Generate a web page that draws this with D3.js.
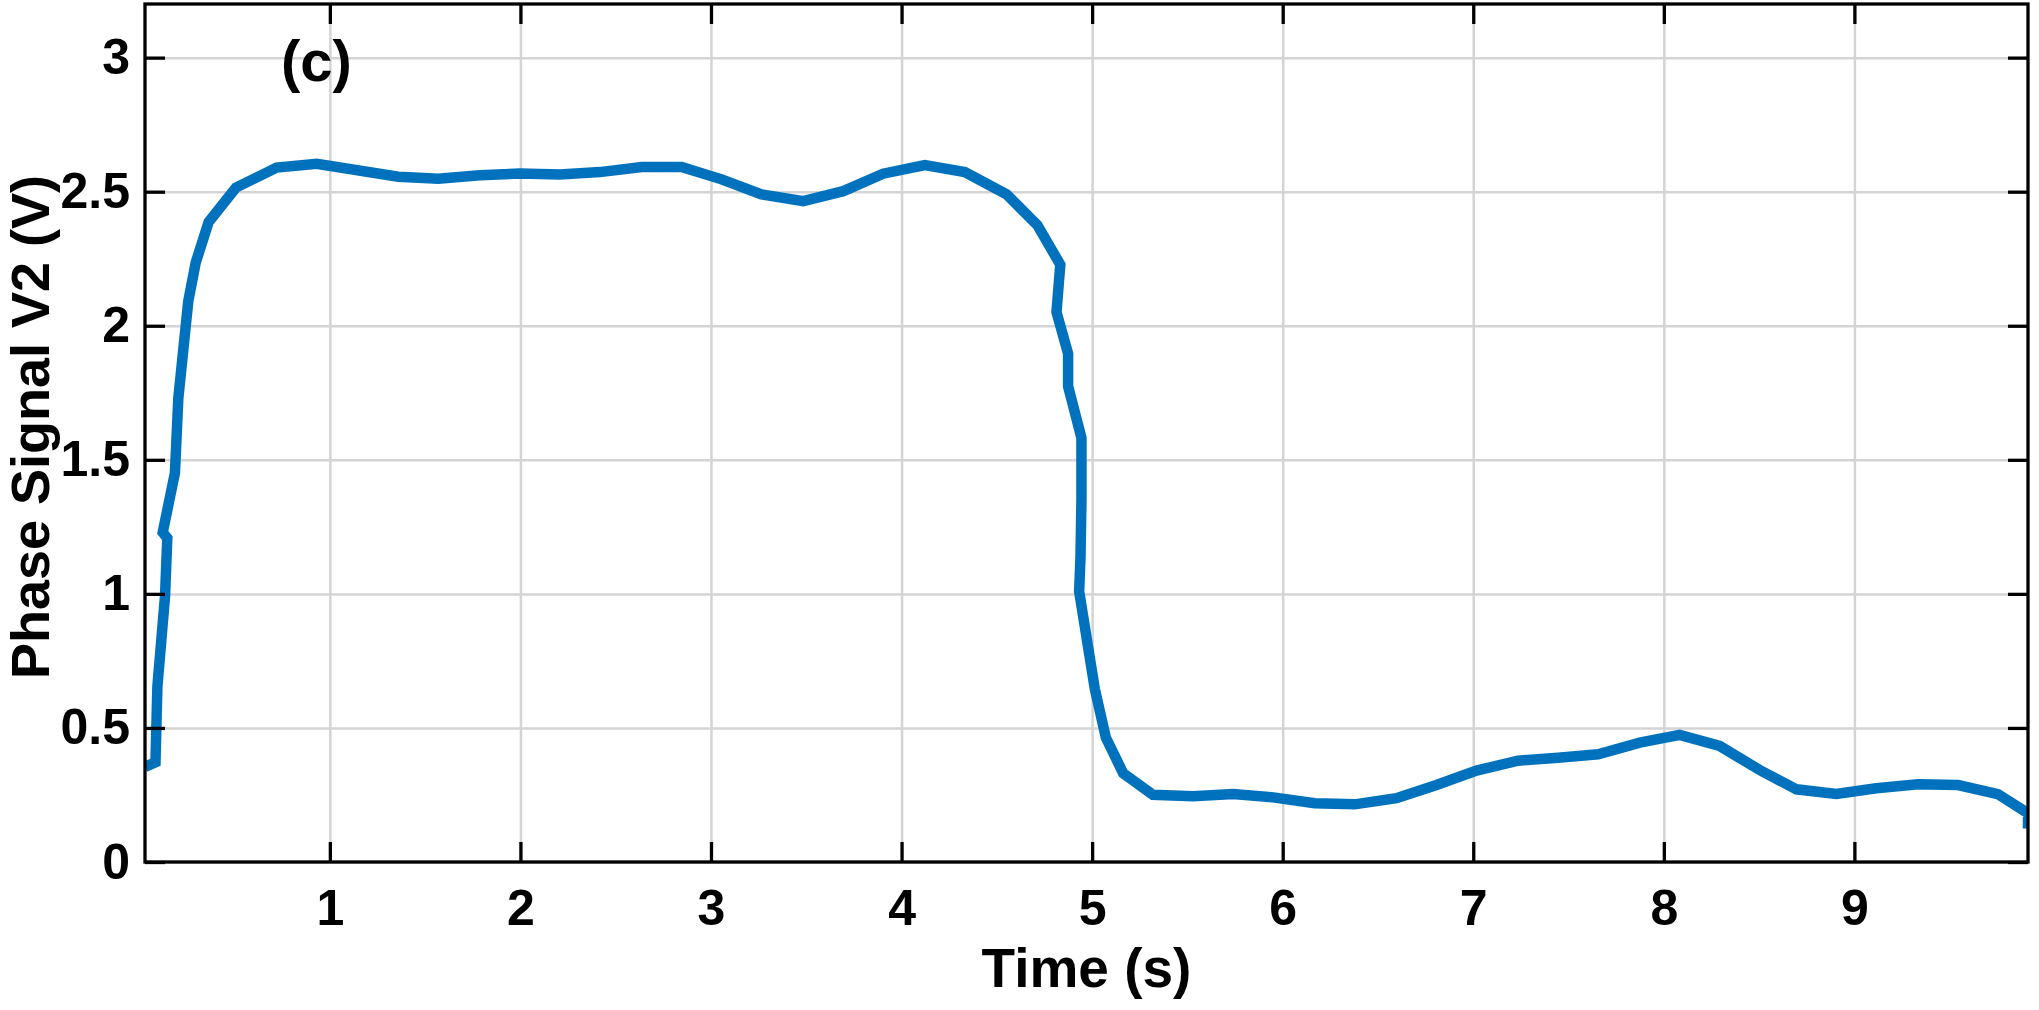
<!DOCTYPE html>
<html>
<head>
<meta charset="utf-8">
<script src="https://cdn.jsdelivr.net/npm/d3@7"></script>
<style>
  body { margin: 0; background: #fff; }
  text { font-family: "Liberation Sans", Arial, sans-serif; font-weight: bold; }
</style>
</head>
<body>
<div id="chart"></div>
<script>
// Phase signal V2 samples (time in s, voltage in V)
const timeS = [0.03, 0.085, 0.095, 0.135, 0.147, 0.123, 0.187, 0.205, 0.257, 0.296,
    0.364, 0.507, 0.721, 0.931, 1.359, 1.569, 1.788, 1.998, 2.207, 2.417,
    2.636, 2.846, 3.056, 3.265, 3.484, 3.694, 3.903, 4.122, 4.332, 4.551,
    4.712, 4.833, 4.813, 4.874, 4.874, 4.944, 4.944, 4.939, 4.932, 5.014,
    5.072, 5.163, 5.319, 5.530, 5.740, 5.950, 6.168, 6.378, 6.597, 6.807,
    7.017, 7.235, 7.445, 7.655, 7.874, 8.083, 8.293, 8.503, 8.696, 8.905,
    9.115, 9.334, 9.544, 9.753, 9.911, 9.911];
const voltV = [0.355, 0.372, 0.654, 0.990, 1.208, 1.229, 1.451, 1.731, 2.091, 2.235,
    2.387, 2.515, 2.590, 2.604, 2.556, 2.548, 2.561, 2.568, 2.564, 2.573,
    2.592, 2.592, 2.546, 2.490, 2.465, 2.502, 2.567, 2.599, 2.573, 2.490,
    2.376, 2.228, 2.051, 1.896, 1.774, 1.582, 1.351, 1.140, 1.009, 0.646,
    0.464, 0.331, 0.251, 0.245, 0.254, 0.241, 0.219, 0.215, 0.238, 0.287,
    0.341, 0.378, 0.389, 0.402, 0.445, 0.474, 0.433, 0.343, 0.271, 0.254,
    0.275, 0.290, 0.287, 0.253, 0.182, 0.125];

const xTicks = [1, 2, 3, 4, 5, 6, 7, 8, 9];
const yTicks = [0, 0.5, 1, 1.5, 2, 2.5, 3];
const yTickLabels = ["0", "0.5", "1", "1.5", "2", "2.5", "3"];

const data = timeS.map((t, i) => ({ t: t, v: voltV[i] }));

const W = 2039, H = 1010;
const margin = { left: 145, right: W - 2028, top: 4, bottom: H - 862 };
const w = W - margin.left - margin.right;
const h = H - margin.top - margin.bottom;

const svg = d3.select("#chart").append("svg")
    .attr("width", W)
    .attr("height", H);

const g = svg.append("g")
    .attr("transform", `translate(${margin.left},${margin.top})`);

const x = d3.scaleLinear().domain([0.03, 9.911]).range([0, w]);
const y = d3.scaleLinear().domain([0, 3.2]).range([h, 0]);

// grid
g.append("g")
    .attr("transform", `translate(0,${h})`)
    .call(d3.axisBottom(x).tickValues(xTicks).tickSize(-h).tickFormat(""))
    .call(a => a.select(".domain").remove())
    .selectAll("line").attr("stroke", "#d4d4d4").attr("stroke-width", 2.5);

g.append("g")
    .call(d3.axisLeft(y).tickValues(yTicks).tickSize(-w).tickFormat(""))
    .call(a => a.select(".domain").remove())
    .selectAll("line").attr("stroke", "#d4d4d4").attr("stroke-width", 2.5);

// line
g.append("clipPath").attr("id", "clip")
    .append("rect").attr("width", w).attr("height", h);

const line = d3.line()
    .x(d => x(d.t))
    .y(d => y(d.v));

g.append("path")
    .datum(data)
    .attr("clip-path", "url(#clip)")
    .attr("fill", "none")
    .attr("stroke", "#0072BD")
    .attr("stroke-width", 10.5)
    .attr("d", line);

// axes with inward ticks
const tickLen = 20;
const styleAxis = a => {
    a.select(".domain").remove();
    a.selectAll("line").attr("stroke", "#000").attr("stroke-width", 3.3);
    a.selectAll("text").attr("fill", "#000").style("font-size", "50px");
};

g.append("g")
    .attr("transform", `translate(0,${h})`)
    .call(d3.axisBottom(x).tickValues(xTicks).tickSizeInner(-tickLen).tickSizeOuter(0)
        .tickPadding(27).tickFormat(d3.format("d")))
    .call(styleAxis);

g.append("g")
    .call(d3.axisTop(x).tickValues(xTicks).tickSizeInner(-tickLen).tickSizeOuter(0).tickFormat(""))
    .call(styleAxis);

g.append("g")
    .call(d3.axisLeft(y).tickValues(yTicks).tickSizeInner(-tickLen).tickSizeOuter(0)
        .tickPadding(15).tickFormat((d, i) => yTickLabels[i]))
    .call(styleAxis);

g.append("g")
    .attr("transform", `translate(${w},0)`)
    .call(d3.axisRight(y).tickValues(yTicks).tickSizeInner(-tickLen).tickSizeOuter(0).tickFormat(""))
    .call(styleAxis);

// box
g.append("rect")
    .attr("width", w)
    .attr("height", h)
    .attr("fill", "none")
    .attr("stroke", "#000")
    .attr("stroke-width", 3.3);

// labels
svg.append("text")
    .attr("x", margin.left + w / 2)
    .attr("y", 987)
    .attr("text-anchor", "middle")
    .style("font-size", "55px")
    .text("Time (s)");

svg.append("text")
    .attr("transform", `translate(49,${margin.top + h / 2 - 6}) rotate(-90)`)
    .attr("text-anchor", "middle")
    .style("font-size", "54px")
    .text("Phase Signal V2 (V)");

svg.append("text")
    .attr("x", 281)
    .attr("y", 81)
    .style("font-size", "58px")
    .text("(c)");
</script>
</body>
</html>
